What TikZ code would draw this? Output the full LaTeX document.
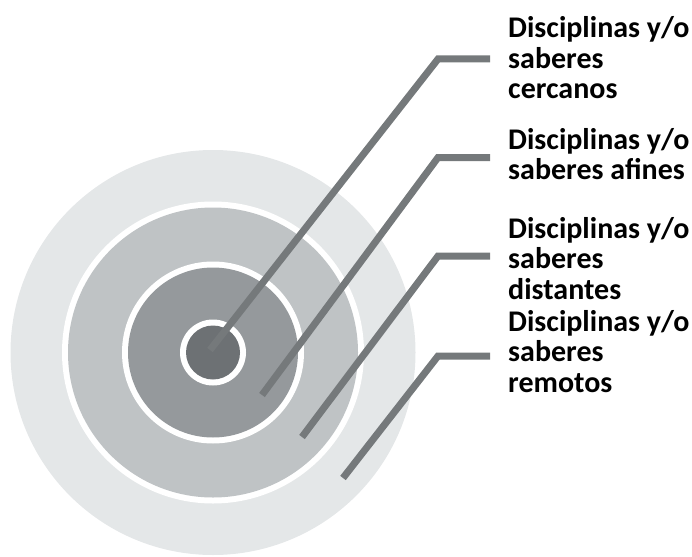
\documentclass[tikz,border=0pt]{standalone}
\usepackage{fontspec}
\setmainfont{Carlito}
\definecolor{ringfar}{HTML}{E4E7E8}
\definecolor{ringmid}{HTML}{BFC3C5}
\definecolor{ringnear}{HTML}{95999C}
\definecolor{core}{HTML}{6D7174}
\definecolor{leadgray}{HTML}{75797B}
\begin{document}
\begin{tikzpicture}[x=1pt, y=-1pt,
  lbl/.style={anchor=base west, align=left, inner sep=0pt,
    font=\fontsize{30}{30.5}\selectfont\bfseries},
  lead/.style={draw=leadgray, line width=7pt}]
\useasboundingbox (0,0) rectangle (692,556);
% target
\coordinate (c) at (213,352.5);
\fill[ringfar] (c) circle[radius=202.5];
\fill[white] (c) circle[radius=151];
\fill[ringmid] (c) circle[radius=145];
\fill[white] (c) circle[radius=91];
\fill[ringnear] (c) circle[radius=85];
\fill[white] (c) circle[radius=33];
\fill[core] (c) circle[radius=27];
% labels (placed by the baseline of their last line)
\node[lbl] (cercanos) at (508,99) {Disciplinas y/o\\saberes\\cercanos};
\node[lbl] (afines) at (508,179.5) {Disciplinas y/o\\saberes afines};
\node[lbl] (distantes) at (508,299) {Disciplinas y/o\\saberes\\distantes};
\node[lbl] (remotos) at (508,392) {Disciplinas y/o\\saberes\\remotos};
% leader lines
\coordinate (tip1) at (210,350);
\coordinate (tip2) at (262,395);
\coordinate (tip3) at (302,437);
\coordinate (tip4) at (343,478);
\coordinate (elb1) at (438,59);
\coordinate (elb2) at (438,157.5);
\coordinate (elb3) at (438,256);
\coordinate (elb4) at (438,356);
\draw[lead] (tip1) -- (elb1) -- (490,59);
\draw[lead] (tip2) -- (elb2) -- (490,157.5);
\draw[lead] (tip3) -- (elb3) -- (490,256);
\draw[lead] (tip4) -- (elb4) -- (490,356);
\end{tikzpicture}
\end{document}
